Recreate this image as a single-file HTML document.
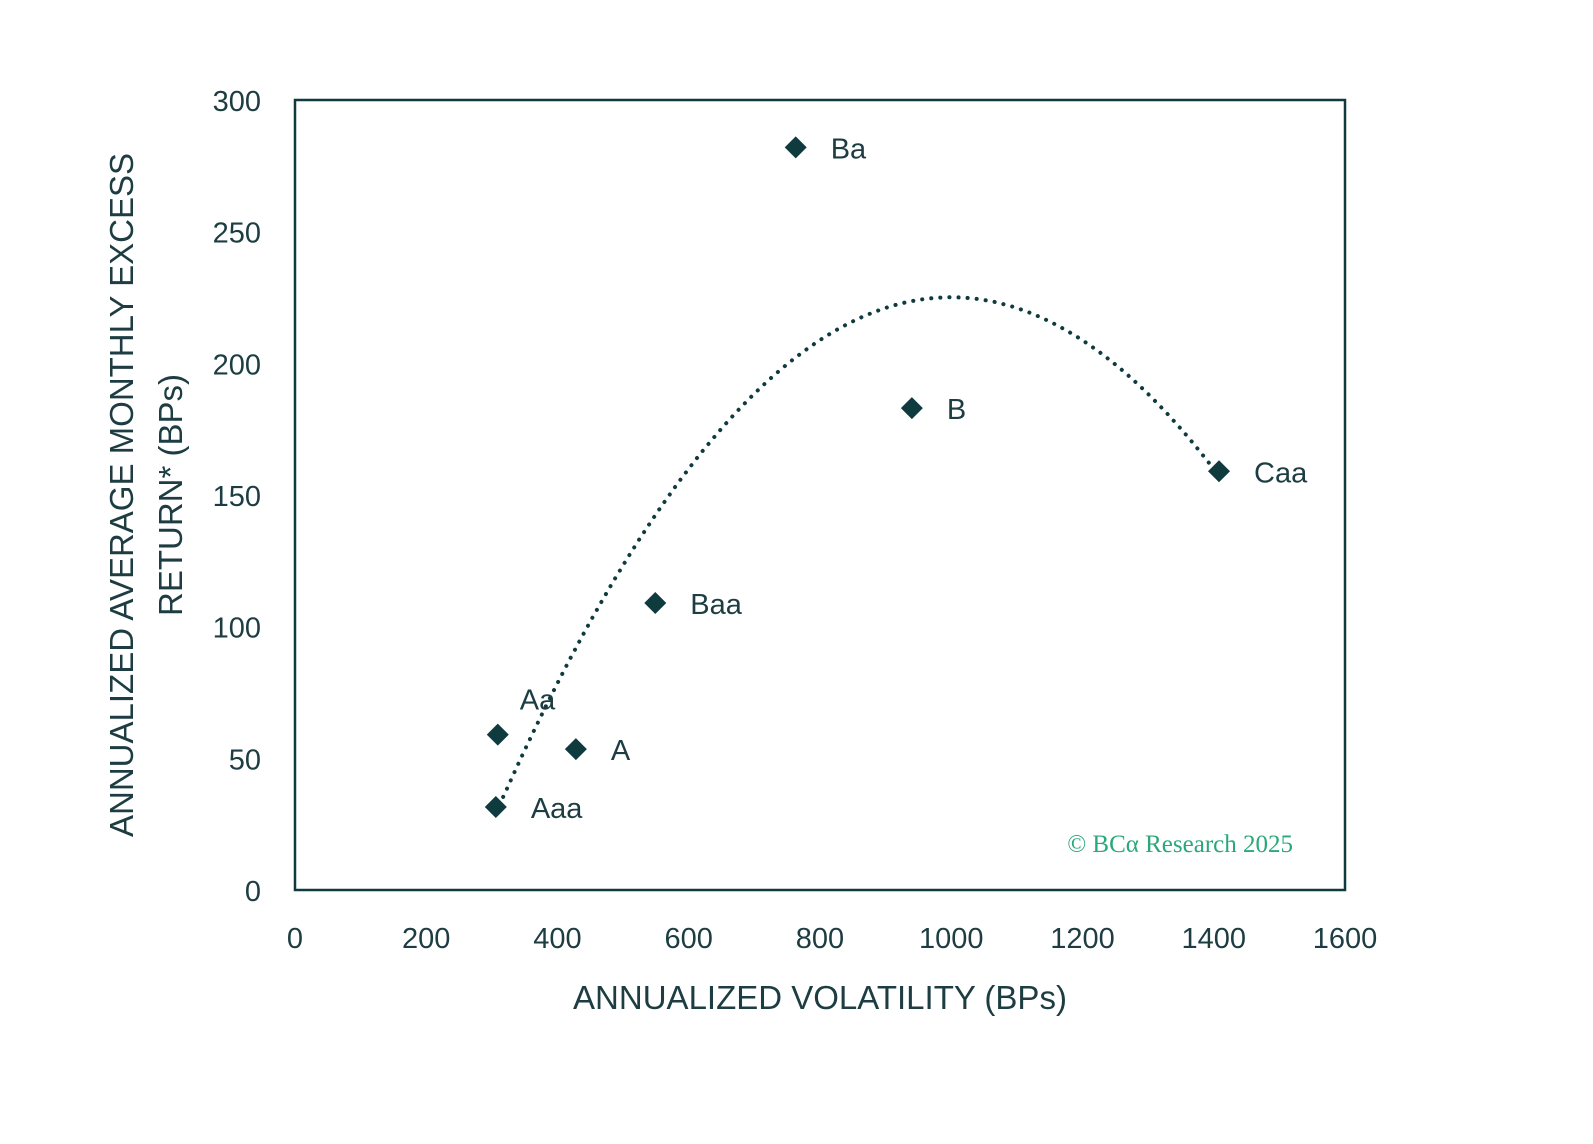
<!DOCTYPE html>
<html><head><meta charset="utf-8"><style>
body{margin:0;background:#fff;}
svg{display:block;font-family:"Liberation Sans","DejaVu Sans",sans-serif;}
</style></head><body>
<svg id="chart" width="1593" height="1144">
</svg>
<script>
const ratings=["Aaa","Aa","A","Baa","Ba","B","Caa"];
const volatility=[306,309,428,549,763,940,1408];
const returns=[31.5,59,53.5,109,282,183,159];
const xTicks=[0,200,400,600,800,1000,1200,1400,1600];
const yTicks=[0,50,100,150,200,250,300];

const svg=document.getElementById('chart');
const NS='http://www.w3.org/2000/svg';
const X0=295,X1=1345,Y0=890,Y1=100;
const xs=v=>X0+(v-0)/1600*(X1-X0);
const ys=v=>Y0-(v-0)/300*(Y0-Y1);
const col="#0f3b3f", txt="#1d3d42";
function mk(t,a,p){const e=document.createElementNS(NS,t);for(const k in a)e.setAttribute(k,a[k]);(p||svg).appendChild(e);return e;}

const frame=mk('rect',{x:X0,y:Y1,width:X1-X0,height:Y0-Y1,fill:'none',stroke:col,'stroke-width':2.5});



xTicks.forEach(v=>{const t=mk('text',{x:xs(v),y:948,'font-size':29,fill:txt,'text-anchor':'middle'});t.textContent=v;

});
yTicks.forEach(v=>{const t=mk('text',{x:261,y:ys(v)+11,'font-size':29,fill:txt,'text-anchor':'end'});t.textContent=v;

});

const xt=mk('text',{x:820,y:1009,'font-size':33,fill:txt,'text-anchor':'middle'});xt.textContent='ANNUALIZED VOLATILITY (BPs)';


const yt=mk('text',{transform:'translate(133,495) rotate(-90)','font-size':33,fill:txt,'text-anchor':'middle'});


const l1=mk('tspan',{x:0,dy:0},yt);l1.textContent='ANNUALIZED AVERAGE MONTHLY EXCESS';
const l2=mk('tspan',{x:0,dy:49},yt);l2.textContent='RETURN* (BPs)';

// quadratic least squares trendline
(function(){
  const n=volatility.length;let S=[0,0,0,0,0],T=[0,0,0];
  for(let i=0;i<n;i++){const x=volatility[i]/1000,y=returns[i];
    for(let k=0;k<5;k++)S[k]+=Math.pow(x,k);for(let k=0;k<3;k++)T[k]+=y*Math.pow(x,k);}
  const M=[[S[0],S[1],S[2],T[0]],[S[1],S[2],S[3],T[1]],[S[2],S[3],S[4],T[2]]];
  for(let i=0;i<3;i++){for(let j=i+1;j<3;j++){const f=M[j][i]/M[i][i];for(let k=i;k<4;k++)M[j][k]-=f*M[i][k];}}
  const c=[0,0,0];for(let i=2;i>=0;i--){let s=M[i][3];for(let k=i+1;k<3;k++)s-=M[i][k]*c[k];c[i]=s/M[i][i];}
  const lo=Math.min(...volatility),hi=Math.max(...volatility);let d='';
  for(let s=0;s<=200;s++){const v=lo+(hi-lo)*s/200,x=v/1000,y=c[0]+c[1]*x+c[2]*x*x;d+=(s?'L':'M')+xs(v).toFixed(1)+','+ys(y).toFixed(1);}
  const p=mk('path',{d:d,fill:'none',stroke:col,'stroke-width':4,'stroke-dasharray':'0.1 9','stroke-linecap':'round'});
  
  
})();

const lblOff={Aa:[22,-36]};
ratings.forEach((r,i)=>{
  const cx=xs(volatility[i]),cy=ys(returns[i]);
  const m=mk('polygon',{points:`${cx},${cy-11} ${cx+11},${cy} ${cx},${cy+11} ${cx-11},${cy}`,fill:col});
  
  
  const o=lblOff[r]||[35,0];
  const t=mk('text',{x:cx+o[0],y:cy+o[1]+11,'font-size':29,fill:txt});t.textContent=r;
  
  
});

const wm=mk('text',{x:1293,y:852,'font-size':25,fill:'#2aa87a','text-anchor':'end','font-family':'"Liberation Serif",serif'});
wm.textContent='© BCα Research 2025';


</script>
</body></html>
